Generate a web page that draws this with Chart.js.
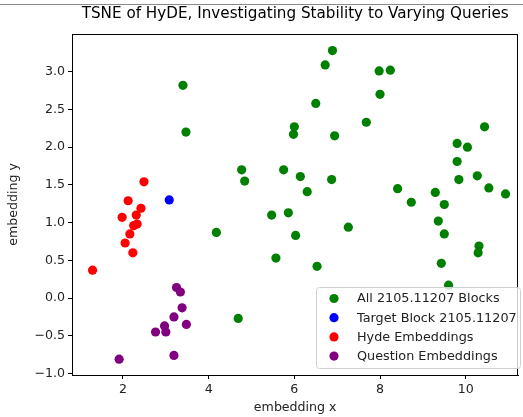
<!DOCTYPE html>
<html>
<head>
<meta charset="utf-8">
<script src="https://cdn.jsdelivr.net/npm/chart.js@4.4.0/dist/chart.umd.min.js"></script>
<style>
  body { margin: 0; background: #fff; }
  #wrap { position: relative; width: 523px; height: 417px; }
  #topline { position: absolute; left: 0; top: 4px; width: 523px; height: 1px; background: #8a8a8a; }
</style>
</head>
<body>
<div id="wrap">
  <div id="topline"></div>
  <canvas id="tsne" width="523" height="417"></canvas>
</div>
<script>
// datos
const blocksX = [3.40, 3.47, 4.77, 4.84, 5.75, 4.18, 5.47, 5.86, 5.57, 4.69,
                 6.89, 6.72, 7.98, 8.24, 8.00, 6.50, 7.68, 6.00, 5.98, 6.94,
                 10.44, 9.80, 10.04, 9.80, 6.14, 6.87, 9.84, 10.27, 6.30, 8.41,
                 10.54, 10.93, 9.29, 8.73, 9.50, 9.36, 7.26, 6.03, 9.50, 10.31,
                 10.29, 6.53, 9.43, 9.60];
const blocksY = [2.82, 2.20, 1.70, 1.55, 1.70, 0.87, 1.10, 1.13, 0.53, -0.27,
                 3.28, 3.09, 3.01, 3.02, 2.70, 2.58, 2.33, 2.27, 2.17, 2.15,
                 2.27, 2.05, 2.00, 1.81, 1.61, 1.57, 1.57, 1.62, 1.41, 1.45,
                 1.46, 1.38, 1.40, 1.27, 1.24, 1.02, 0.94, 0.83, 0.85, 0.69,
                 0.60, 0.42, 0.46, 0.17];
const targetX = [3.08];
const targetY = [1.30];
const hydeX = [2.49, 2.12, 2.42, 2.31, 1.98, 2.33, 2.25, 2.16, 2.05, 2.23, 1.29];
const hydeY = [1.54, 1.29, 1.19, 1.10, 1.07, 0.98, 0.96, 0.85, 0.73, 0.60, 0.37];
const questionX = [3.25, 3.34, 3.38, 3.19, 3.48, 2.97, 3.00, 2.76, 3.19, 1.91];
const questionY = [0.14, 0.08, -0.13, -0.25, -0.35, -0.37, -0.45, -0.45, -0.76, -0.81];

const seriesLabels = ['All 2105.11207 Blocks', 'Target Block 2105.11207', 'Hyde Embeddings', 'Question Embeddings'];
const xTicks = [2, 4, 6, 8, 10];
const yTicks = [-1.0, -0.5, 0.0, 0.5, 1.0, 1.5, 2.0, 2.5, 3.0];

const colores = ['#008000', '#0000ff', '#ff0000', '#800080'];
const fuente = 'DejaVu Sans';
const tam = 12.6;

function puntos(xs, ys) {
    return xs.map((x, i) => ({ x: x, y: ys[i] }));
}

// marco completo + leyenda dentro del area
const marcoYLeyenda = {
    id: 'marcoYLeyenda',
    afterDatasetsDraw(chart) {
        const { ctx, chartArea: a } = chart;
        ctx.save();
        ctx.strokeStyle = '#000';
        ctx.lineWidth = 1;
        ctx.strokeRect(Math.round(a.left) + 0.5, Math.round(a.top) + 0.5,
                       Math.round(a.right - a.left) - 1, Math.round(a.bottom - a.top));

        // leyenda
        const bx = 316, by = 287, bw = 204, bh = 81, r = 3;
        ctx.beginPath();
        ctx.roundRect(bx + 0.5, by + 0.5, bw, bh, r);
        ctx.fillStyle = 'rgba(255,255,255,0.8)';
        ctx.fill();
        ctx.strokeStyle = '#d0d0d0';
        ctx.stroke();

        ctx.font = '12.8px "' + fuente + '"';
        ctx.textBaseline = 'middle';
        ctx.textAlign = 'left';
        chart.data.datasets.forEach((ds, i) => {
            const yy = 298.5 + i * 19.2;
            ctx.beginPath();
            ctx.arc(334, yy, 4.6, 0, Math.PI * 2);
            ctx.fillStyle = ds.backgroundColor;
            ctx.fill();
            ctx.fillStyle = '#222';
            ctx.fillText(ds.label, 357, yy + 0.5);
        });
        ctx.restore();
    }
};

new Chart(document.getElementById('tsne'), {
    type: 'scatter',
    data: {
        datasets: [
            { label: seriesLabels[0], data: puntos(blocksX, blocksY), backgroundColor: colores[0], order: 4 },
            { label: seriesLabels[1], data: puntos(targetX, targetY), backgroundColor: colores[1], order: 3 },
            { label: seriesLabels[2], data: puntos(hydeX, hydeY), backgroundColor: colores[2], order: 2 },
            { label: seriesLabels[3], data: puntos(questionX, questionY), backgroundColor: colores[3], order: 1 }
        ].map(ds => Object.assign(ds, { pointRadius: 4.6, pointHoverRadius: 4.6, borderWidth: 0 }))
    },
    options: {
        responsive: false,
        animation: false,
        layout: { padding: { left: 0, right: 1, top: 0, bottom: 0 } },
        plugins: {
            legend: { display: false },
            tooltip: { enabled: false },
            title: {
                display: true,
                fullSize: false,
                text: 'TSNE of HyDE, Investigating Stability to Varying Queries',
                color: '#000',
                font: { family: fuente, size: 15.2, weight: 'normal', lineHeight: 1.2 },
                padding: { top: 5, bottom: 10.76 }
            }
        },
        scales: {
            x: {
                type: 'linear',
                min: 0.81,
                max: 11.23,
                afterBuildTicks: s => { s.ticks = xTicks.map(v => ({ value: v })); },
                afterFit: s => { s.height = 42; },
                grid: { drawOnChartArea: false, drawTicks: true, tickLength: 4, color: '#000' },
                border: { display: true, color: '#000', width: 1 },
                ticks: {
                    color: '#222', padding: 3, maxRotation: 0,
                    font: { family: fuente, size: tam },
                    callback: v => String(v)
                },
                title: {
                    display: true, text: 'embedding x', color: '#222',
                    font: { family: fuente, size: tam },
                    padding: { top: 0, bottom: 2 }
                }
            },
            y: {
                type: 'linear',
                min: -1.02,
                max: 3.50,
                afterBuildTicks: s => { s.ticks = yTicks.map(v => ({ value: v })); },
                afterFit: s => { s.width = 72; },
                grid: { drawOnChartArea: false, drawTicks: true, tickLength: 4, color: '#000' },
                border: { display: true, color: '#000', width: 1 },
                ticks: {
                    color: '#222', padding: 3,
                    font: { family: fuente, size: tam },
                    callback: v => v.toFixed(1).replace('-', '\u2212')
                },
                title: {
                    display: true, text: 'embedding y', color: '#222',
                    font: { family: fuente, size: tam },
                    padding: { top: 6, bottom: 0 }
                }
            }
        }
    },
    plugins: [marcoYLeyenda]
});
</script>
</body>
</html>
